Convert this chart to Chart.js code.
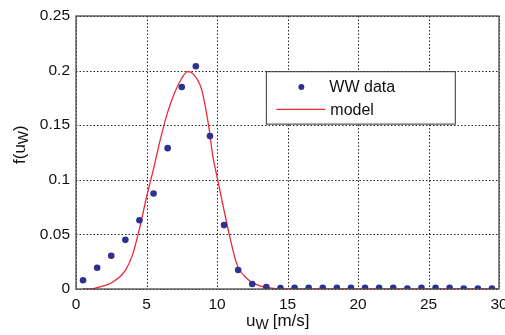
<!DOCTYPE html>
<html>
<head>
<meta charset="utf-8">
<script src="https://cdn.jsdelivr.net/npm/chart.js@4"></script>
<style>
  html, body { margin: 0; padding: 0; background: #fff; }
  #wrap { width: 505px; height: 335px; position: relative; }
</style>
</head>
<body>
<div id="wrap"><canvas id="windChart"></canvas></div>
<script>
// measured wind speed bins [m/s] and relative frequency
const windSpeeds = [0.5, 1.5, 2.5, 3.5, 4.5, 5.5, 6.5, 7.5, 8.5, 9.5, 10.5, 11.5, 12.5, 13.5, 14.5,
  15.5, 16.5, 17.5, 18.5, 19.5, 20.5, 21.5, 22.5, 23.5, 24.5, 25.5, 26.5, 27.5, 28.5, 29.5];
const wwValues = [0.008, 0.0195, 0.0305, 0.045, 0.063, 0.0875, 0.129, 0.185, 0.204, 0.140, 0.0585, 0.0174, 0.0046, 0.0018, 0.0008,
  0.001, 0.001, 0.001, 0.001, 0.001, 0.001, 0.001, 0.001, 0.0003, 0.001, 0.001, 0.001, 0.0003, 0.0003, 0.0005];

// model curve
const modelSpeeds = [0.5, 1.0, 1.3, 2.0, 2.5, 3.0, 3.5, 4.0, 4.5, 5.0, 5.5, 6.0, 6.5, 7.0, 7.5, 7.9, 8.3, 8.9, 9.4, 9.7,
  10.0, 10.5, 10.85, 11.4, 12.1, 13.0, 14.0, 15.0, 20.0, 25.0, 30.0];
const modelValues = [0, 0, 0.0005, 0.003, 0.0055, 0.010, 0.017, 0.031, 0.055, 0.084, 0.110, 0.138, 0.162, 0.180, 0.193, 0.199, 0.197, 0.183, 0.150, 0.122,
  0.103, 0.072, 0.051, 0.023, 0.0098, 0.003, 0.0005, 0, 0, 0, 0];

const xTicks = [0, 5, 10, 15, 20, 25, 30];
const yTicks = [0, 0.05, 0.1, 0.15, 0.2, 0.25];
const legendLabels = ["WW data", "model"];

const dotColor = "#2e3192";
const lineColor = "#ec2a33";
const fontFamily = "'Liberation Sans', Arial, sans-serif";

const wwPoints = windSpeeds.map((x, i) => ({ x: x, y: wwValues[i] }));
const modelPoints = modelSpeeds.map((x, i) => ({ x: x, y: modelValues[i] }));

// dotted matlab style grid, drawn under the data
const dottedGridPlugin = {
  id: "dottedGrid",
  beforeDatasetsDraw(chart) {
    const ctx = chart.ctx;
    const area = chart.chartArea;
    const xs = chart.scales.x, ys = chart.scales.y;
    ctx.save();
    ctx.strokeStyle = "#222";
    ctx.lineWidth = 1;
    ctx.setLineDash([1.5, 2]);
    xTicks.forEach((v) => {
      const px = Math.round(xs.getPixelForValue(v)) + 0.5;
      ctx.beginPath();
      ctx.moveTo(px, area.top);
      ctx.lineTo(px, area.bottom);
      ctx.stroke();
    });
    yTicks.forEach((v) => {
      const py = Math.round(ys.getPixelForValue(v)) + 0.5;
      ctx.beginPath();
      ctx.moveTo(area.left, py);
      ctx.lineTo(area.right, py);
      ctx.stroke();
    });
    ctx.restore();
  }
};

// draws box, axis titles with subscripts and the legend
const extrasPlugin = {
  id: "extras",
  afterDraw(chart) {
    const ctx = chart.ctx;
    const area = chart.chartArea;
    ctx.save();

    // axes box
    ctx.strokeStyle = "#4a4a4a";
    ctx.lineWidth = 1.3;
    ctx.strokeRect(area.left, area.top, area.right - area.left, area.bottom - area.top);

    // x title: u_W [m/s]
    ctx.fillStyle = "#111";
    ctx.textBaseline = "alphabetic";
    ctx.textAlign = "left";
    let tx = 246, ty = 326;
    ctx.font = "17px " + fontFamily;
    ctx.fillText("u", tx, ty);
    tx += ctx.measureText("u").width;
    ctx.font = "14px " + fontFamily;
    ctx.fillText("W", tx, ty + 3);
    tx += ctx.measureText("W").width + 4;
    ctx.font = "17px " + fontFamily;
    ctx.fillText("[m/s]", tx, ty);

    // y title: f(u_W), rotated
    ctx.translate(25, 164);
    ctx.rotate(-Math.PI / 2);
    let px = 0;
    ctx.font = "17px " + fontFamily;
    ctx.fillText("f(u", px, 0);
    px += ctx.measureText("f(u").width;
    ctx.font = "14px " + fontFamily;
    ctx.fillText("W", px, 3);
    px += ctx.measureText("W").width;
    ctx.font = "17px " + fontFamily;
    ctx.fillText(")", px, 0);
    ctx.setTransform(1, 0, 0, 1, 0, 0);

    // legend box
    const xs = chart.scales.x, ys = chart.scales.y;
    const bx = xs.getPixelForValue(13.5), by = ys.getPixelForValue(0.199);
    const bw = xs.getPixelForValue(26.9) - bx, bh = ys.getPixelForValue(0.151) - by;
    ctx.fillStyle = "#fff";
    ctx.fillRect(bx, by, bw, bh);
    ctx.strokeStyle = "#333";
    ctx.lineWidth = 1;
    ctx.strokeRect(bx, by, bw, bh);

    const row1 = by + bh * 0.29, row2 = by + bh * 0.72;
    ctx.fillStyle = dotColor;
    ctx.beginPath();
    ctx.arc(bx + 35, row1, 3, 0, Math.PI * 2);
    ctx.fill();
    ctx.strokeStyle = lineColor;
    ctx.lineWidth = 1.3;
    ctx.beginPath();
    ctx.moveTo(bx + 10, row2);
    ctx.lineTo(bx + 59, row2);
    ctx.stroke();

    ctx.fillStyle = "#111";
    ctx.font = "16px " + fontFamily;
    ctx.textBaseline = "middle";
    ctx.fillText(legendLabels[0], bx + 63, row1 + 1);
    ctx.fillText(legendLabels[1], bx + 64, row2 + 1);
    ctx.restore();
  }
};

new Chart(document.getElementById("windChart"), {
  type: "line",
  data: {
    datasets: [
      {
        label: legendLabels[0],
        data: wwPoints,
        showLine: false,
        pointRadius: 3.3,
        pointHoverRadius: 3.3,
        pointBackgroundColor: dotColor,
        pointBorderColor: dotColor,
        pointBorderWidth: 0
      },
      {
        label: legendLabels[1],
        data: modelPoints,
        borderColor: lineColor,
        borderWidth: 1.3,
        pointRadius: 0,
        cubicInterpolationMode: "monotone",
        fill: false
      }
    ]
  },
  options: {
    responsive: true,
    maintainAspectRatio: false,
    animation: false,
    layout: { padding: { top: 16, right: 6, left: 0, bottom: 0 } },
    plugins: {
      legend: { display: false },
      tooltip: { enabled: false }
    },
    scales: {
      x: {
        type: "linear",
        min: 0,
        max: 30,
        afterBuildTicks: (scale) => { scale.ticks = xTicks.map((v) => ({ value: v })); },
        afterFit: (scale) => { scale.height = 46; scale.paddingLeft = 0; scale.paddingRight = 0; },
        grid: { display: false, drawTicks: false },
        border: { display: false },
        ticks: {
          color: "#111",
          padding: 6,
          font: { family: fontFamily, size: 15.5 },
          maxRotation: 0
        }
      },
      y: {
        min: 0,
        max: 0.25,
        afterBuildTicks: (scale) => { scale.ticks = yTicks.map((v) => ({ value: v })); },
        afterFit: (scale) => { scale.width = 76; scale.paddingTop = 0; scale.paddingBottom = 0; },
        grid: { display: false, drawTicks: false },
        border: { display: false },
        ticks: {
          color: "#111",
          padding: 6,
          font: { family: fontFamily, size: 15.5 },
          callback: (v) => String(Number(v.toFixed(2)))
        }
      }
    }
  },
  plugins: [dottedGridPlugin, extrasPlugin]
});
</script>
</body>
</html>
